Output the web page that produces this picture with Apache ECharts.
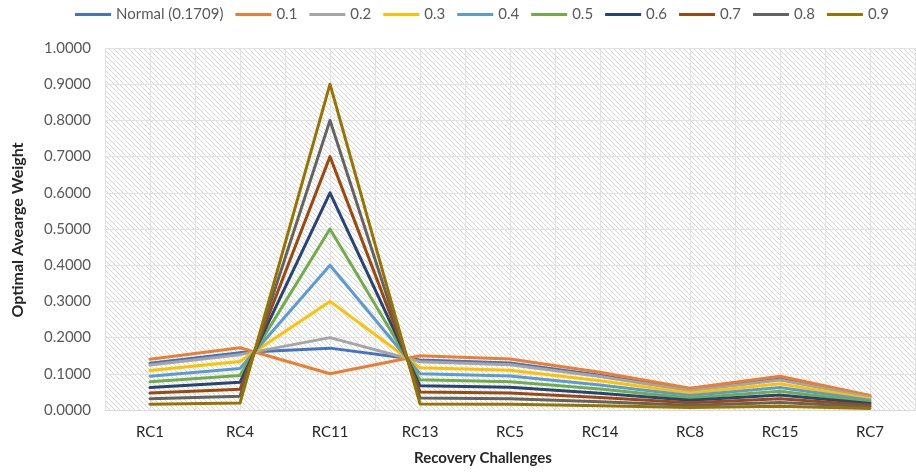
<!DOCTYPE html>
<html>
<head>
<meta charset="utf-8">
<script src="https://cdn.jsdelivr.net/npm/echarts@6/dist/echarts.min.js"></script>
<style>
  html, body { margin: 0; padding: 0; background: #ffffff; }
  #chart { width: 916px; height: 473px; }
</style>
</head>
<body>
<div id="chart"></div>
<script>
// Recovery challenges on the category axis
const categories = ['RC1', 'RC4', 'RC11', 'RC13', 'RC5', 'RC14', 'RC8', 'RC15', 'RC7'];

// Optimal average weight per challenge, one list per scenario
const seriesNames = ['Normal (0.1709)', '0.1', '0.2', '0.3', '0.4', '0.5', '0.6', '0.7', '0.8', '0.9'];
const wNormal = [0.1290, 0.1585, 0.1709, 0.1382, 0.1299, 0.0958, 0.0553, 0.0857, 0.0368];
const w01 = [0.1400, 0.1720, 0.1000, 0.1500, 0.1410, 0.1040, 0.0600, 0.0930, 0.0400];
const w02 = [0.1244, 0.1529, 0.2000, 0.1333, 0.1253, 0.0924, 0.0533, 0.0827, 0.0356];
const w03 = [0.1089, 0.1338, 0.3000, 0.1167, 0.1097, 0.0809, 0.0467, 0.0723, 0.0311];
const w04 = [0.0933, 0.1147, 0.4000, 0.1000, 0.0940, 0.0693, 0.0400, 0.0620, 0.0267];
const w05 = [0.0778, 0.0956, 0.5000, 0.0833, 0.0783, 0.0578, 0.0333, 0.0517, 0.0222];
const w06 = [0.0622, 0.0764, 0.6000, 0.0667, 0.0627, 0.0462, 0.0267, 0.0413, 0.0178];
const w07 = [0.0467, 0.0573, 0.7000, 0.0500, 0.0470, 0.0347, 0.0200, 0.0310, 0.0133];
const w08 = [0.0311, 0.0382, 0.8000, 0.0333, 0.0313, 0.0231, 0.0133, 0.0207, 0.0089];
const w09 = [0.0156, 0.0191, 0.9000, 0.0167, 0.0157, 0.0116, 0.0067, 0.0103, 0.0044];
const seriesValues = [wNormal, w01, w02, w03, w04, w05, w06, w07, w08, w09];

const colors = ['#4472C4', '#ED7D31', '#A5A5A5', '#FFC000', '#5B9BD5',
                '#70AD47', '#264478', '#9E480E', '#636363', '#997300'];

// Diagonal hatch used as the plot-area fill
function hatchPattern() {
  const s = 5;
  const c = document.createElement('canvas');
  c.width = s; c.height = s;
  const g = c.getContext('2d');
  g.fillStyle = '#ffffff';
  g.fillRect(0, 0, s, s);
  g.strokeStyle = '#d6d6d6';
  g.lineWidth = 1;
  g.beginPath();
  g.moveTo(-1, -1); g.lineTo(s + 1, s + 1);
  g.moveTo(-1, s - 1); g.lineTo(1, s + 1);
  g.moveTo(s - 1, -1); g.lineTo(s + 1, 1);
  g.stroke();
  return { image: c, repeat: 'repeat' };
}

const FONT = 'Lato, "Open Sans", sans-serif';
const chart = echarts.init(document.getElementById('chart'), null, { renderer: 'canvas' });

chart.setOption({
  animation: false,
  backgroundColor: '#ffffff',
  color: colors,
  textStyle: { fontFamily: FONT },
  legend: {
    top: 7,
    left: 75,
    right: 0,
    padding: 0,
    itemWidth: 36,
    itemHeight: 16,
    itemGap: 12,
    icon: 'path://M0,0 L36,0 L36,3 L0,3 Z',
    textStyle: { fontFamily: FONT, fontSize: 15, color: '#595959' },
    data: seriesNames
  },
  grid: {
    left: 105, right: 1, top: 48, bottom: 63,
    show: true,
    backgroundColor: hatchPattern(),
    borderWidth: 0
  },
  xAxis: [
    {
      type: 'category',
      data: categories,
      boundaryGap: true,
      axisLine: { show: true, lineStyle: { color: '#d9d9d9', width: 1 } },
      axisTick: { show: false },
      splitLine: { show: false },
      axisLabel: { fontFamily: FONT, fontSize: 15, color: '#262626', margin: 15 }
    },
    {
      // half-category vertical gridlines
      type: 'value',
      min: 0, max: 18, interval: 1,
      position: 'bottom',
      axisLine: { show: false },
      axisTick: { show: false },
      axisLabel: { show: false },
      splitLine: { show: true, lineStyle: { color: '#e2e2e2', width: 1 } }
    }
  ],
  yAxis: {
    type: 'value',
    min: 0, max: 1, interval: 0.1,
    axisLine: { show: false },
    axisTick: { show: false },
    splitLine: { show: true, lineStyle: { color: '#e2e2e2', width: 1 } },
    axisLabel: {
      fontFamily: FONT, fontSize: 15, color: '#595959', margin: 14,
      formatter: v => v.toFixed(4)
    }
  },
  graphic: [
    {
      type: 'text', x: 18, y: 230, rotation: Math.PI / 2,
      style: {
        text: 'Optimal Avearge Weight',
        font: 'bold 16px ' + FONT,
        fill: '#262626', textAlign: 'center', textVerticalAlign: 'middle'
      }
    },
    {
      type: 'text', x: 483, y: 458,
      style: {
        text: 'Recovery Challenges',
        font: 'bold 15px ' + FONT,
        fill: '#262626', textAlign: 'center', textVerticalAlign: 'middle'
      }
    }
  ],
  series: seriesNames.map((name, i) => ({
    name: name,
    type: 'line',
    xAxisIndex: 0,
    data: seriesValues[i],
    showSymbol: false,
    symbol: 'none',
    lineStyle: { width: 3, color: colors[i], join: 'round', cap: 'round' },
    itemStyle: { color: colors[i] }
  }))
});
</script>
</body>
</html>
